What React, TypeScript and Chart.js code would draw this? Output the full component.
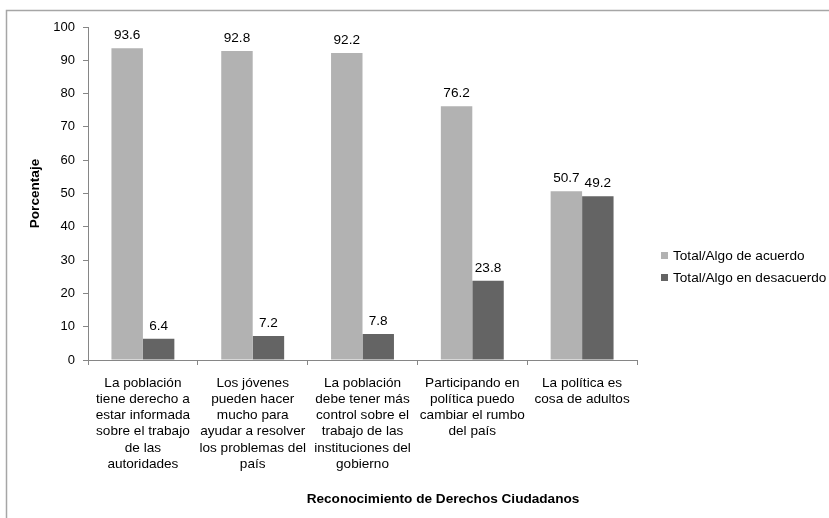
import React, { useEffect, useRef } from "react";
import { Chart, registerables } from "chart.js";

Chart.register(...registerables);

const categories: string[][] = [
  ["La población", "tiene derecho a", "estar informada", "sobre el trabajo", "de las", "autoridades"],
  ["Los jóvenes", "pueden hacer", "mucho para", "ayudar a resolver", "los problemas del", "país"],
  ["La población", "debe tener más", "control sobre el", "trabajo de las", "instituciones del", "gobierno"],
  ["Participando en", "política puedo", "cambiar el rumbo", "del país"],
  ["La política es", "cosa de adultos"],
];
const seriesNames = ["Total/Algo de acuerdo", "Total/Algo en desacuerdo"];
const acuerdo = [93.6, 92.8, 92.2, 76.2, 50.7];
const desacuerdo = [6.4, 7.2, 7.8, 23.8, 49.2];
const yTicks = [0, 10, 20, 30, 40, 50, 60, 70, 80, 90, 100];
const yTitle = "Porcentaje";
const xTitle = "Reconocimiento de Derechos Ciudadanos";

const FONT = "'Liberation Sans', Arial, sans-serif";
const LIGHT = "#b2b2b2";
const DARK = "#646464";
const AXIS = "#868686";

export default function App() {
  const ref = useRef<HTMLCanvasElement | null>(null);

  useEffect(() => {
    document.body.style.margin = "0";
    const canvas = ref.current;
    if (!canvas) return;

    const decor = {
      id: "decor",
      beforeDraw(chart: any) {
        const ctx = chart.ctx;
        ctx.save();
        ctx.fillStyle = "#ffffff";
        ctx.fillRect(0, 0, chart.width, chart.height);
        ctx.strokeStyle = "#a6a6a6";
        ctx.lineWidth = 1.5;
        ctx.strokeRect(6.5, 10.5, chart.width + 20, chart.height + 20);
        ctx.restore();
      },
      afterDatasetsDraw(chart: any) {
        const ctx = chart.ctx;
        ctx.save();
        ctx.fillStyle = "#000";
        ctx.font = `13.6px ${FONT}`;
        ctx.textAlign = "center";
        ctx.textBaseline = "alphabetic";
        chart.data.datasets.forEach((ds: any, i: number) => {
          const meta = chart.getDatasetMeta(i);
          meta.data.forEach((bar: any, j: number) => {
            ctx.fillText(Number(ds.data[j]).toFixed(1), bar.x, bar.y - 9);
          });
        });
        ctx.restore();
      },
      afterDraw(chart: any) {
        const ctx = chart.ctx;
        const area = chart.chartArea;
        ctx.save();
        ctx.fillStyle = "#000";
        ctx.font = `bold 13.6px ${FONT}`;
        ctx.textAlign = "center";
        ctx.textBaseline = "middle";
        ctx.save();
        ctx.translate(35, (area.top + area.bottom) / 2);
        ctx.rotate(-Math.PI / 2);
        ctx.fillText(yTitle, 0, 0);
        ctx.restore();
        ctx.fillText(xTitle, 443, 499);
        // legend
        ctx.font = `13.6px ${FONT}`;
        ctx.textAlign = "left";
        chart.data.datasets.forEach((ds: any, i: number) => {
          const y = 256 + i * 22;
          ctx.fillStyle = ds.backgroundColor;
          ctx.fillRect(661, y - 4, 7, 7);
          ctx.fillStyle = "#000";
          ctx.fillText(ds.label, 673, y);
        });
        ctx.restore();
      },
    };

    const chart = new Chart(canvas, {
      type: "bar",
      data: {
        labels: categories,
        datasets: [
          { label: seriesNames[0], data: acuerdo, backgroundColor: LIGHT, barPercentage: 1, categoryPercentage: 0.573 },
          { label: seriesNames[1], data: desacuerdo, backgroundColor: DARK, barPercentage: 1, categoryPercentage: 0.573 },
        ],
      },
      options: {
        responsive: false,
        animation: false,
        devicePixelRatio: 1,
        layout: { padding: { top: 27, right: 192, left: 0, bottom: 0 } },
        plugins: {
          legend: { display: false },
          tooltip: { enabled: false },
          title: { display: false },
        },
        scales: {
          x: {
            type: "category",
            offset: true,
            grid: {
              display: true,
              drawOnChartArea: false,
              drawTicks: true,
              tickLength: 5,
              color: AXIS,
              offset: true,
            },
            border: { display: true, color: AXIS, width: 1 },
            ticks: {
              color: "#000",
              font: { size: 13.6, family: FONT, lineHeight: 1.19 },
              padding: 10,
              maxRotation: 0,
              minRotation: 0,
              autoSkip: false,
            },
            afterFit(scale: any) {
              scale.height = 158;
            },
          },
          y: {
            min: yTicks[0],
            max: yTicks[yTicks.length - 1],
            afterBuildTicks(scale: any) {
              scale.ticks = yTicks.map((v) => ({ value: v }));
            },
            grid: {
              display: true,
              drawOnChartArea: false,
              drawTicks: true,
              tickLength: 5,
              color: AXIS,
            },
            border: { display: true, color: AXIS, width: 1 },
            ticks: {
              color: "#000",
              font: { size: 13, family: FONT },
              padding: 8,
            },
            afterFit(scale: any) {
              scale.width = 88;
            },
          },
        },
      },
      plugins: [decor],
    } as any);

    return () => chart.destroy();
  }, []);

  return <canvas ref={ref} width={829} height={518} style={{ display: "block" }} />;
}
